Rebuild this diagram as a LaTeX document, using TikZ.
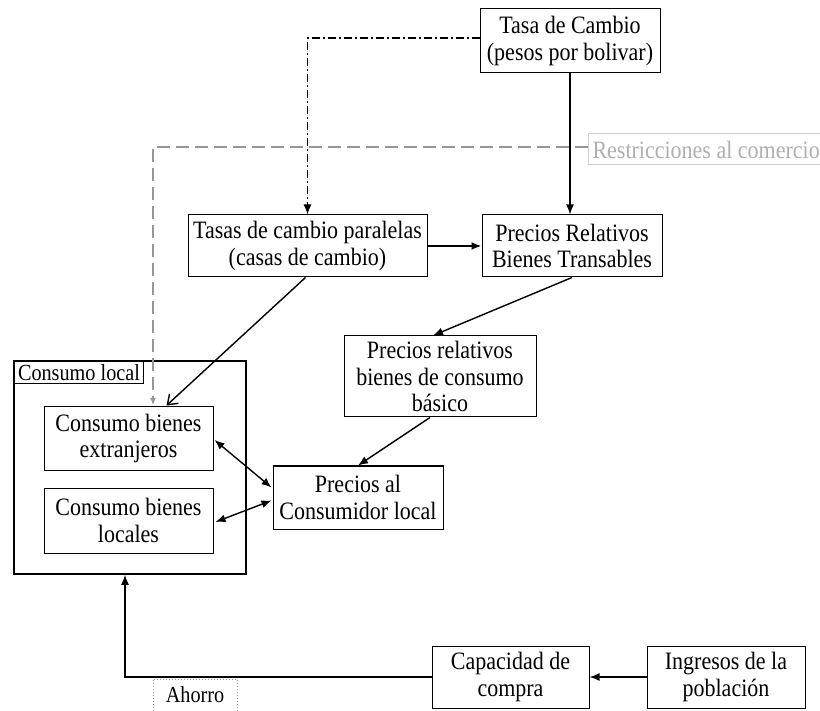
\documentclass[tikz,border=0pt]{standalone}
\usepackage{fontspec}
\setmainfont[FakeStretch=0.88]{Liberation Serif}
\usetikzlibrary{arrows.meta,calc}
\definecolor{greyline}{RGB}{150,150,150}
\definecolor{greytext}{RGB}{175,175,175}
\begin{document}
\begin{tikzpicture}[x=1pt,y=-1pt,
  box/.style={draw, line width=1pt, inner sep=0pt, align=center,
    font=\fontsize{25}{26.5}\selectfont},
  conn/.style={line width=1.4pt, -{Latex[length=10pt,width=8pt]}},
  biconn/.style={line width=1.4pt, {Latex[length=10pt,width=8pt]}-{Latex[length=10pt,width=8pt]}},
  ddot/.style={line width=1.3pt, dash pattern=on 8pt off 3pt on 2pt off 3pt, -{Latex[length=10pt,width=8pt]}},
  gdash/.style={line width=1.2pt, greyline, dash pattern=on 13pt off 6pt, -{Latex[length=7pt,width=6pt]}}]
\useasboundingbox (0,0) rectangle (820,711);
\fill[white] (0,0) rectangle (820,711);

% nodes
\node[box, minimum width=180pt, minimum height=64pt] (tasa) at (570,41) {Tasa de Cambio\\(pesos por bolivar)};
\node[box, minimum width=239pt, minimum height=62pt] (paral) at (307.5,246) {Tasas de cambio paralelas\\(casas de cambio)};
\node[box, minimum width=180pt, minimum height=62pt] (prt) at (572,246) {Precios Relativos\\Bienes Transables};
\node[box, minimum width=192pt, minimum height=81pt] (basico) at (440,376.5) {Precios relativos\\bienes de consumo\\básico};
\node[box, line width=1.6pt, minimum width=232pt, minimum height=213pt] (outer) at (130,467.5) {};
\node[box, anchor=north west, minimum width=129pt, minimum height=22pt, font=\fontsize{23}{24}\selectfont] (lbl) at (14,361) {Consumo local};
\node[box, minimum width=169pt, minimum height=63pt] (ext) at (128.5,438.5) {Consumo bienes\\extranjeros};
\node[box, minimum width=169pt, minimum height=65pt] (loc) at (128.5,520.5) {Consumo bienes\\locales};
\node[box, minimum width=170pt, minimum height=63pt] (pcl) at (358,497.5) {Precios al\\Consumidor local};
\node[box, minimum width=157pt, minimum height=62pt] (cap) at (510.5,677) {Capacidad de\\compra};
\node[box, minimum width=158pt, minimum height=62pt] (ing) at (726,677) {Ingresos de la\\población};
\node[box, draw=greyline, dotted, minimum width=84pt, minimum height=32pt, font=\fontsize{23}{24}\selectfont] (ahorro) at (195,695) {Ahorro};
\node[box, draw=greytext!60, text=greytext, anchor=west, minimum height=31pt, inner xsep=4pt] (restr) at (588,149.5) {Restricciones al comercio};

% connectors
\draw[ddot] (tasa.west |- 0,38) -| (paral.north);
\draw[conn] (tasa.south) -- (tasa.south |- prt.north);
\draw[conn, line width=1.9pt] (paral.east) -- (prt.west);
\coordinate (gtip) at (153,405);
\draw[gdash] (restr.west |- 0,147) -| (gtip);
\draw[line width=1.4pt, -{Straight Barb[length=9pt,width=13pt,line width=1.4pt]}] ($(paral.south)+(-2,0)$) -- ($(ext.north)+(38,-1)$);
\draw[conn] (prt.south) -- ($(basico.north)+(-7,0)$);
\draw[conn] ($(basico.south)+(-10,0)$) -- (pcl.north);
\draw[biconn] ($(ext.east)+(1,1.5)$) -- ($(pcl.west)+(-1,-10)$);
\draw[biconn] ($(loc.east)+(2,1.5)$) -- ($(pcl.west)+(-1,3)$);
\draw[conn] (ing.west) -- (cap.east);
\coordinate (up) at ($(outer.south)+(-5,0)$);
\draw[conn] (cap.west) -| (up);
\end{tikzpicture}
\end{document}
